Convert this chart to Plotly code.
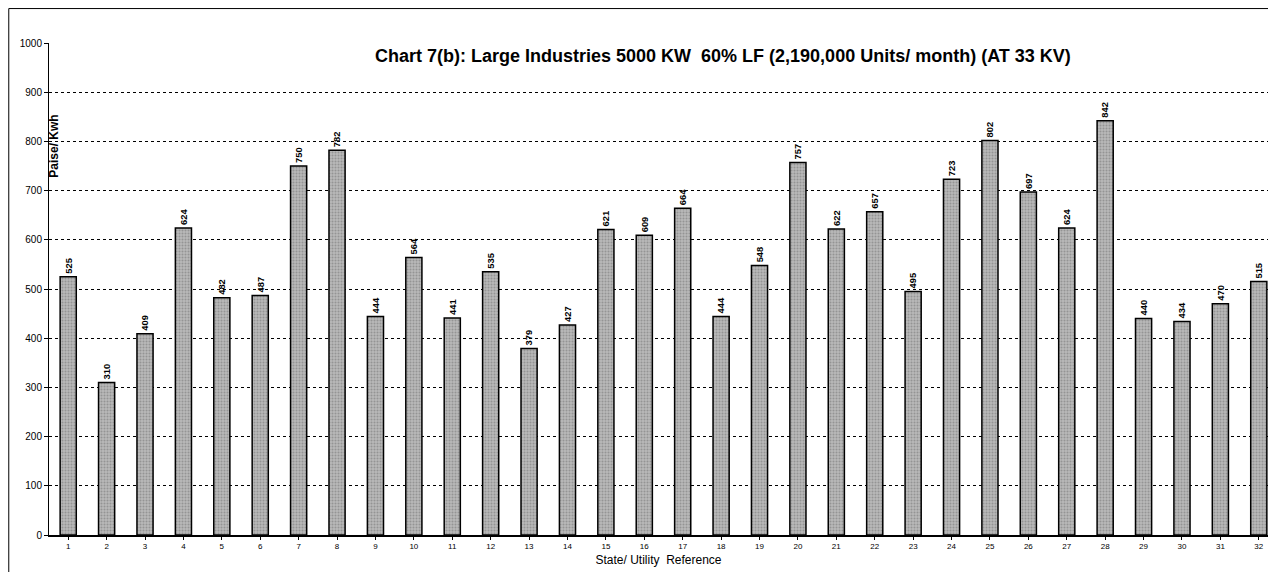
import plotly.graph_objects as go

# state / utility reference numbers and tariff (paise per kWh)
refs = list(range(1, 33))
tariff = [525, 310, 409, 624, 482, 487, 750, 782, 444, 564, 441, 535, 379, 427,
          621, 609, 664, 444, 548, 757, 622, 657, 495, 723, 802, 697, 624, 842,
          440, 434, 470, 515]
y_ticks = [0, 100, 200, 300, 400, 500, 600, 700, 800, 900, 1000]

title_text = "Chart 7(b): Large Industries 5000 KW  60% LF (2,190,000 Units/ month) (AT 33 KV)"

fig = go.Figure(
    go.Bar(
        x=refs,
        y=tariff,
        width=0.42,
        text=[f"<b>{v}</b>" for v in tariff],
        textposition="outside",
        textangle=-90,
        textfont=dict(family="Arial, Liberation Sans", size=10, color="black"),
        cliponaxis=False,
        marker=dict(
            color="#b8b8b8",
            line=dict(color="black", width=1.5),
            pattern=dict(shape=".", fgcolor="#707070", size=3, solidity=0.35),
        ),
        hoverinfo="x+y",
    )
)

fig.add_annotation(
    x=0.553, y=0.973, xref="paper", yref="paper",
    text=f"<b>{title_text}</b>", showarrow=False, yanchor="middle",
    font=dict(family="Arial, Liberation Sans", size=18, color="black"),
)
fig.add_annotation(
    x=-0.003, y=0.79, xref="paper", yref="paper",
    text="<b>Paise/ Kwh</b>", textangle=-90, showarrow=False,
    xanchor="left", yanchor="middle",
    font=dict(family="Arial, Liberation Sans", size=12, color="black"),
)
# outer frame of the original sheet
fig.add_shape(
    type="rect", xref="paper", yref="paper",
    x0=-0.033, x1=1.2, y0=-0.2, y1=1.07,
    line=dict(color="black", width=1),
)

fig.update_layout(
    width=1268,
    height=572,
    margin=dict(l=49, r=0, t=43, b=37),
    paper_bgcolor="white",
    plot_bgcolor="white",
    showlegend=False,
    font=dict(family="Arial, Liberation Sans", color="black"),
    xaxis=dict(
        range=[0.5, 32.24],
        tickmode="array",
        tickvals=refs,
        ticktext=[str(r) for r in refs],
        tickfont=dict(size=8),
        ticks="outside",
        tickson="boundaries",
        ticklen=3,
        tickcolor="black",
        showgrid=False,
        showline=True,
        linecolor="black",
        linewidth=1.5,
        title=dict(text="State/ Utility  Reference", font=dict(size=12), standoff=5),
    ),
    yaxis=dict(
        range=[0, 1000],
        tickmode="array",
        tickvals=y_ticks,
        tickfont=dict(size=10),
        ticks="outside",
        ticklen=4,
        tickcolor="black",
        showgrid=True,
        gridcolor="black",
        griddash="dot",
        gridwidth=1,
        showline=True,
        linecolor="black",
        linewidth=1,
        zeroline=False,
    ),
)

fig.write_html(
    "out.html",
    config={"displayModeBar": False},
    post_script="document.body.style.margin='0';",
)
